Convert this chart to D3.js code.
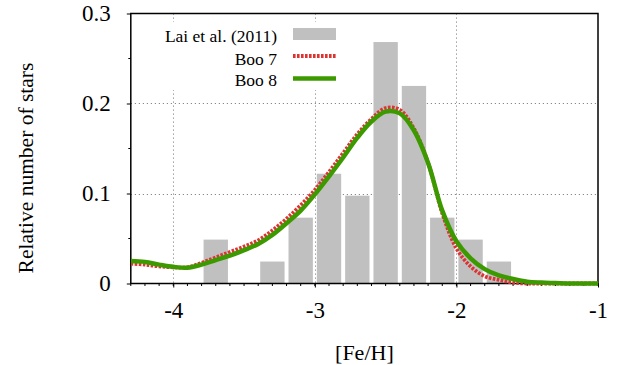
<!DOCTYPE html>
<html><head><meta charset="utf-8">
<script src="https://cdn.jsdelivr.net/npm/d3@7"></script>
<style>
body{margin:0;background:#fff;}
svg text{font-family:"Liberation Serif","Times New Roman",Times,"DejaVu Serif",serif !important;fill:#000;}
</style></head>
<body><svg id="c" width="618" height="365"></svg>
<script>
// Histogram (Lai et al. 2011)
const binCenters = [-3.7, -3.3, -3.1, -2.9, -2.7, -2.5, -2.3, -2.1, -1.9, -1.7];
const binValues  = [2/41, 1/41, 3/41, 5/41, 4/41, 11/41, 9/41, 3/41, 2/41, 1/41];
// Model curves, sampled every 0.1 dex from -4.3 to -1.0
const feh = [-4.3,-4.2,-4.1,-4.0,-3.9,-3.8,-3.7,-3.6,-3.5,-3.4,-3.3,-3.2,-3.1,-3.0,-2.9,-2.8,-2.7,-2.6,-2.5,-2.4,-2.3,-2.2,-2.1,-2.0,-1.9,-1.8,-1.7,-1.6,-1.5,-1.4,-1.3,-1.2,-1.1,-1.0];
const boo7 = [0.022,0.021,0.019,0.018,0.018,0.023,0.029,0.035,0.041,0.048,0.059,0.072,0.087,0.104,0.124,0.145,0.166,0.183,0.195,0.193,0.172,0.134,0.078,0.039,0.019,0.008,0.004,0.001,0.0,0.0,0.0,0.0,0.0,0.0];
const boo8 = [0.025,0.024,0.021,0.0185,0.0175,0.021,0.026,0.031,0.037,0.044,0.054,0.067,0.081,0.099,0.119,0.140,0.162,0.180,0.191,0.189,0.170,0.134,0.081,0.047,0.028,0.016,0.009,0.005,0.002,0.001,0.0005,0.0,0.0,0.0];
const xTicks = [-4, -3, -2, -1];
const yTicks = [0, 0.1, 0.2, 0.3];
const legendLabels = ["Lai et al. (2011)", "Boo 7", "Boo 8"];

const svg = d3.select("#c");
const L = 130.8, R = 598, T = 13.5, B = 283.5;
const x = d3.scaleLinear().domain([-4.3, -1]).range([L, R]);
const y = d3.scaleLinear().domain([0, 0.3]).range([B, T]);

svg.append("defs").append("clipPath").attr("id","clip")
  .append("rect").attr("x",L).attr("y",T-3).attr("width",R-L).attr("height",B-T+6);

// grid
const grid = svg.append("g").attr("stroke","#888").attr("stroke-width",1).attr("stroke-dasharray","1.2,2.8");
grid.selectAll(".gx").data(xTicks.filter(d=>d>-4.3 && d<-1)).join("line")
  .attr("x1",d=>Math.round(x(d))+0.5).attr("x2",d=>Math.round(x(d))+0.5).attr("y1",T).attr("y2",B);
grid.selectAll(".gy").data(yTicks.filter(d=>d>0 && d<0.3)).join("line")
  .attr("y1",d=>Math.round(y(d))+0.5).attr("y2",d=>Math.round(y(d))+0.5).attr("x1",L).attr("x2",R);

// legend background
svg.append("rect").attr("x",140).attr("y",22).attr("width",200).attr("height",68).attr("fill","#fff");

// bars
const bw = 0.172;
svg.append("g").selectAll("rect").data(binCenters).join("rect")
  .attr("x",(d)=>x(d-bw/2)).attr("width",x(bw)-x(0))
  .attr("y",(d,i)=>y(binValues[i])).attr("height",(d,i)=>y(0)-y(binValues[i]))
  .attr("fill","#c0c0c0");

// axes
const xAxis = d3.axisBottom(x).tickValues(xTicks).tickFormat(d=>String(d)).tickSize(4).tickPadding(14);
const yAxis = d3.axisLeft(y).tickValues(yTicks).tickFormat(d=>d===0?"0":d3.format(".1f")(d)).tickSize(4).tickPadding(16);
const minorX = d3.range(-4.3, -0.99, 0.1).map(v=>+v.toFixed(2));
const minorY = [0.05,0.15,0.25];
const gx = svg.append("g").attr("transform",`translate(0,${B})`);
gx.selectAll(".mx").data(minorX).join("line").attr("x1",d=>x(d)).attr("x2",d=>x(d)).attr("y1",0).attr("y2",2.5).attr("stroke","#000");
gx.call(xAxis);
const gy = svg.append("g").attr("transform",`translate(${L},0)`);
gy.selectAll(".my").data(minorY).join("line").attr("y1",d=>y(d)).attr("y2",d=>y(d)).attr("x1",0).attr("x2",-2.5).attr("stroke","#000");
gy.call(yAxis);
gx.attr("font-family",null); gy.attr("font-family",null);
svg.selectAll(".domain").remove();
svg.selectAll(".tick text").style("font-size","23px");
svg.append("rect").attr("x",L).attr("y",T).attr("width",R-L).attr("height",B-T)
  .attr("fill","none").attr("stroke","#000").attr("stroke-width",1.5);

// curves
const line = d3.line().x((d,i)=>x(feh[i])).y(d=>y(d)).curve(d3.curveCatmullRom.alpha(0.5));
const cg = svg.append("g").attr("clip-path","url(#clip)");
cg.append("path").attr("d",line(boo7)).attr("fill","none").attr("stroke","#dd3333").attr("stroke-width",3.8).attr("stroke-dasharray","2.6,1.4");
cg.append("path").attr("d",line(boo8)).attr("fill","none").attr("stroke","#3c9a00").attr("stroke-width",4.5);

// legend
const lg = svg.append("g");
const ly = [36, 58.5, 80];
lg.selectAll("text").data(legendLabels).join("text")
  .attr("x",277).attr("y",(d,i)=>ly[i]).attr("dy","0.35em").attr("text-anchor","end")
  .style("font-size","17.5px").text(d=>d);
lg.append("rect").attr("x",293).attr("y",28).attr("width",43).attr("height",12).attr("fill","#c0c0c0");
lg.append("line").attr("x1",293).attr("x2",336).attr("y1",ly[1]-2.5).attr("y2",ly[1]-2.5).attr("stroke","#dd3333").attr("stroke-width",3.8).attr("stroke-dasharray","2.6,1.4");
lg.append("line").attr("x1",293).attr("x2",336).attr("y1",ly[2]-1.5).attr("y2",ly[2]-1.5).attr("stroke","#3c9a00").attr("stroke-width",4.5);

// axis titles
svg.append("text").attr("x",(L+R)/2).attr("y",352).attr("dy","0.35em").attr("text-anchor","middle").style("font-size","22px").text("[Fe/H]");
svg.append("text").attr("transform","translate(25,168) rotate(-90)").attr("dy","0.35em").attr("text-anchor","middle").style("font-size","21.5px").text("Relative number of stars");
</script></body></html>
